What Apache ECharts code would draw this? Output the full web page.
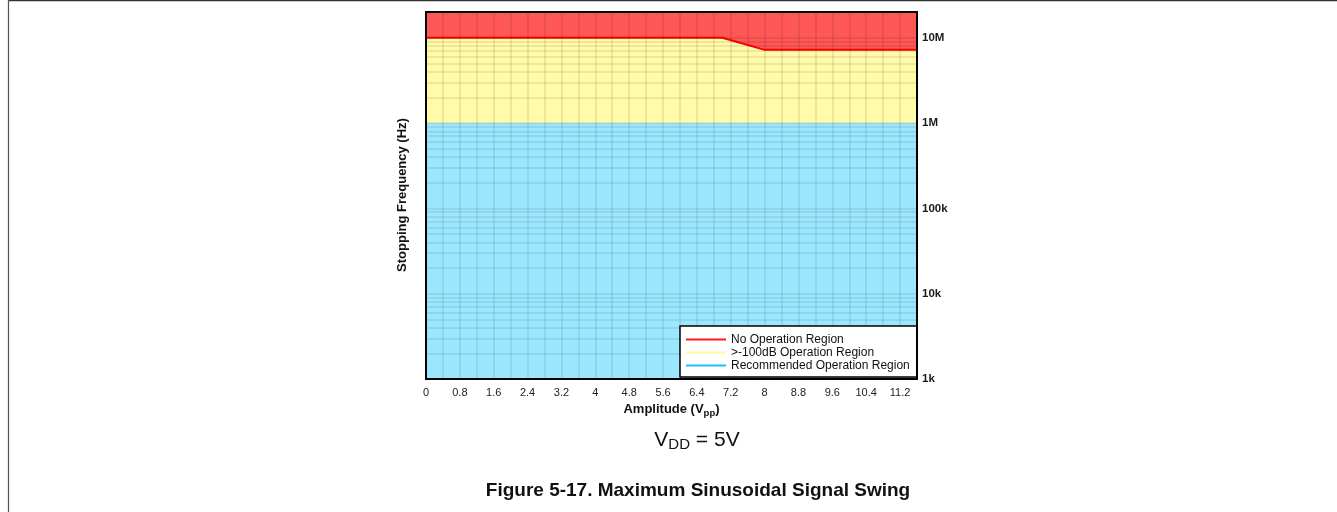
<!DOCTYPE html>
<html>
<head>
<meta charset="utf-8">
<script src="https://cdn.jsdelivr.net/npm/echarts@6/dist/echarts.min.js"></script>
<style>
html,body{margin:0;padding:0;background:#fff;}
#chart{width:1337px;height:512px;}
</style>
</head>
<body>
<div id="chart"></div>
<script>
// ---- data ----
const amplitude = [0, 7.0, 8.0, 11.6];                 // Vpp breakpoints
const noOperationTop = [2e7, 2e7, 2e7, 2e7];           // top of No Operation region (Hz)
const noOperationBoundary = [1e7, 1e7, 7.2e6, 7.2e6];  // lower edge of No Operation region (Hz)
const recommendedTop = [1e6, 1e6, 1e6, 1e6];           // upper edge of Recommended region (Hz)
const seriesNames = ['No Operation Region', '>-100dB Operation Region', 'Recommended Operation Region'];
const yDecadeLabels = {3: '1k', 4: '10k', 5: '100k', 6: '1M', 7: '10M'};
const yDecades = [1e3, 1e4, 1e5, 1e6, 1e7];
const yMinorMultipliers = [2, 3, 4, 5, 6, 7, 8, 9];
const xMin = 0, xMax = 11.6, xGridStep = 0.4, xLabelStep = 0.8;
const yMin = 1e3, yMax = 2e7;

const FONT = '"Liberation Sans", Arial, sans-serif';
const GRIDLINE = 'rgba(0,0,0,0.1)';
const GRIDW = 1.5;

const minorLines = [];
yDecades.forEach(d => yMinorMultipliers.forEach(k => {
  const v = d * k;
  if (v < yMax) minorLines.push({yAxis: v});
}));

const pairs = arr => amplitude.map((x, i) => [x, arr[i]]);

const chart = echarts.init(document.getElementById('chart'), null, {renderer: 'canvas'});
chart.setOption({
  animation: false,
  backgroundColor: '#fff',
  grid: {
    left: 426, top: 12, width: 491, height: 367,
    show: true, backgroundColor: 'transparent',
    borderColor: '#000', borderWidth: 2, z: 10
  },
  xAxis: {
    type: 'value', min: xMin, max: xMax, interval: xGridStep, z: 5,
    axisLine: {show: false}, axisTick: {show: false},
    splitLine: {show: true, lineStyle: {color: GRIDLINE, width: GRIDW}},
    axisLabel: {
      margin: 8, fontFamily: FONT, fontSize: 11, color: '#222',
      formatter: v => {
        const n = Math.round(v / xGridStep);
        if (n % Math.round(xLabelStep / xGridStep) !== 0) return '';
        return String(parseFloat(v.toFixed(1)));
      }
    },
    name: '{b|Amplitude (V}{s|pp}{b|)}',
    nameLocation: 'middle', nameGap: 20,
    nameTextStyle: {
      rich: {
        b: {fontFamily: FONT, fontSize: 13, fontWeight: 'bold', color: '#111'},
        s: {fontFamily: FONT, fontSize: 9.5, fontWeight: 'bold', color: '#111', padding: [7, 0, 0, 0]}
      }
    }
  },
  yAxis: {
    type: 'log', logBase: 10, min: yMin, max: yMax, position: 'right', z: 5,
    axisLine: {show: false}, axisTick: {show: false},
    splitLine: {show: true, lineStyle: {color: GRIDLINE, width: GRIDW}},
    axisLabel: {
      margin: 5, fontFamily: FONT, fontSize: 11.5, fontWeight: 'bold', color: '#1a1a1a',
      formatter: v => {
        const e = Math.log10(v), r = Math.round(e);
        return Math.abs(e - r) < 1e-6 ? (yDecadeLabels[r] || '') : '';
      }
    }
  },
  legend: {
    orient: 'vertical', left: 680, top: 326, z: 20,
    backgroundColor: '#fff', borderColor: '#000', borderWidth: 1.5,
    padding: [7, 7, 5, 6], itemGap: 0, itemWidth: 40, itemHeight: 2,
    icon: 'rect',
    textStyle: {fontFamily: FONT, fontSize: 12, color: '#111', lineHeight: 13},
    data: [
      {name: seriesNames[0], itemStyle: {color: '#ff1a1a'}},
      {name: seriesNames[1], itemStyle: {color: '#fdfb9a'}},
      {name: seriesNames[2], itemStyle: {color: '#22bff2'}}
    ]
  },
  series: [
    {
      name: seriesNames[0], type: 'line', data: pairs(noOperationTop),
      symbol: 'none', silent: true, z: 1,
      lineStyle: {opacity: 0}, itemStyle: {color: '#ff5656'},
      areaStyle: {color: '#ff5656', opacity: 1, origin: 'start'}
    },
    {
      name: seriesNames[1], type: 'line', data: pairs(noOperationBoundary),
      symbol: 'none', silent: true, z: 2,
      lineStyle: {color: '#ff0000', width: 2}, itemStyle: {color: '#fffba8'},
      areaStyle: {color: '#fffba8', opacity: 1, origin: 'start'}
    },
    {
      name: seriesNames[2], type: 'line', data: pairs(recommendedTop),
      symbol: 'none', silent: true, z: 3,
      lineStyle: {opacity: 0}, itemStyle: {color: '#9be7fe'},
      areaStyle: {color: '#9be7fe', opacity: 1, origin: 'start'},
      markLine: {
        silent: true, symbol: 'none', animation: false,
        label: {show: false},
        lineStyle: {color: GRIDLINE, width: GRIDW, type: 'solid'},
        emphasis: {disabled: true},
        data: minorLines
      }
    }
  ],
  graphic: [
    {type: 'line', silent: true, shape: {x1: 8.5, y1: 0.5, x2: 1337, y2: 0.5}, style: {stroke: '#333', lineWidth: 1.5}},
    {type: 'line', silent: true, shape: {x1: 8.5, y1: 0, x2: 8.5, y2: 512}, style: {stroke: '#555', lineWidth: 1.2}},
    {
      type: 'text', silent: true, x: 402, y: 195, rotation: Math.PI / 2,
      style: {text: 'Stopping Frequency (Hz)', font: 'bold 13px ' + FONT, fill: '#111', align: 'center', verticalAlign: 'middle'}
    },
    {
      type: 'text', silent: true, x: 697, y: 440,
      style: {
        text: '{v|V}{s|DD}{v| = 5V}', align: 'center', verticalAlign: 'middle',
        rich: {
          v: {fontFamily: FONT, fontSize: 21, fill: '#111'},
          s: {fontFamily: FONT, fontSize: 15, fill: '#111', padding: [9, 0, 0, 0]}
        }
      }
    },
    {
      type: 'text', silent: true, x: 698, y: 491,
      style: {text: 'Figure 5-17. Maximum Sinusoidal Signal Swing', font: 'bold 19px ' + FONT, fill: '#111', align: 'center', verticalAlign: 'middle'}
    }
  ]
});
</script>
</body>
</html>
